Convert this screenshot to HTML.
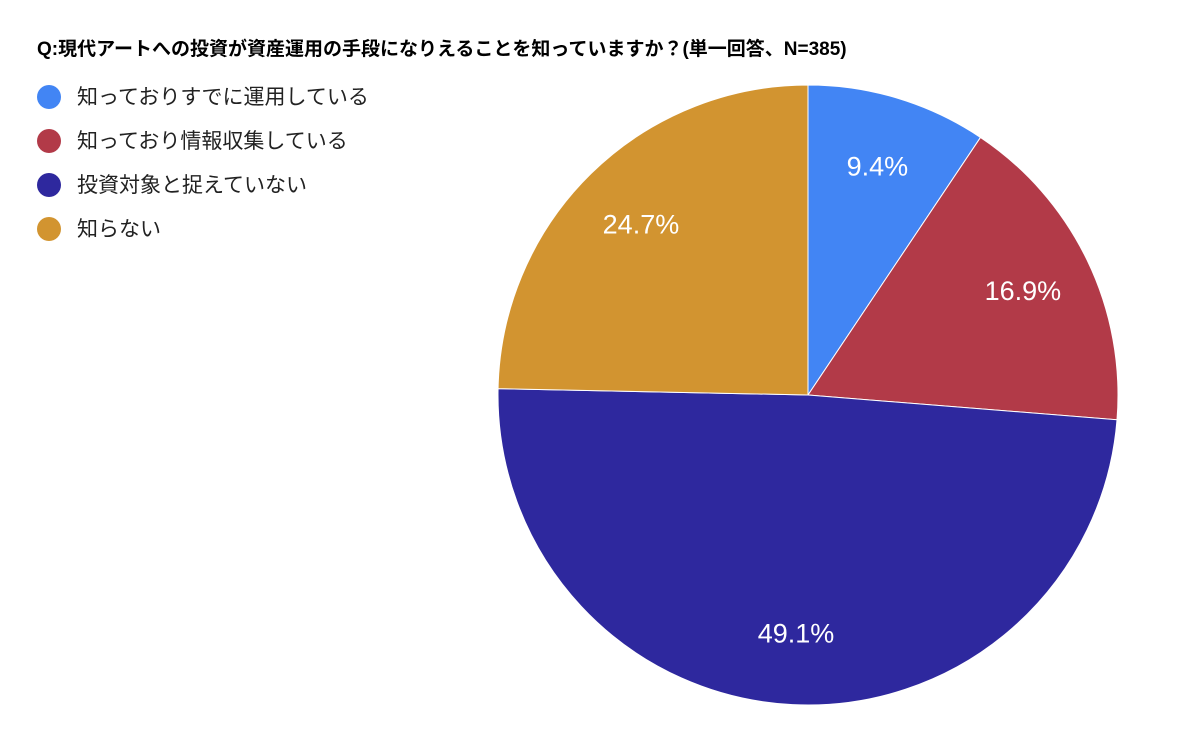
<!DOCTYPE html>
<html><head><meta charset="utf-8"><style>
body{margin:0;background:#fff;width:1200px;height:741px;overflow:hidden;font-family:"Liberation Sans","Noto Sans CJK JP",sans-serif}
</style></head><body>
<svg id="chart" width="1200" height="741" xmlns="http://www.w3.org/2000/svg">
<text x="37" y="55" font-size="19" font-weight="bold" fill="#000" font-family="Liberation Sans, Noto Sans CJK JP, sans-serif">Q:現代アートへの投資が資産運用の手段になりえることを知っていますか？(単一回答、N=385)</text>
<g id="legend"></g>
<g id="slices"></g>
<g id="labels"></g>
</svg>
<script>
const categories=["知っておりすでに運用している","知っており情報収集している","投資対象と捉えていない","知らない"];
const values=[9.4,16.9,49.1,24.7];
const colors=["#4285f4","#b23a48","#2e289e","#d29430"];
const cx=808,cy=395,R=310;
const ns="http://www.w3.org/2000/svg";
const total=values.reduce((a,b)=>a+b,0);
const slices=document.getElementById('slices'),labels=document.getElementById('labels'),legend=document.getElementById('legend');
function pt(a,r){return [cx+r*Math.sin(a),cy-r*Math.cos(a)];}
let acc=0;
values.forEach((v,i)=>{
  const a0=acc/total*2*Math.PI;acc+=v;const a1=acc/total*2*Math.PI;
  const p0=pt(a0,R),p1=pt(a1,R);
  const large=(a1-a0)>Math.PI?1:0;
  const path=document.createElementNS(ns,'path');
  path.setAttribute('d',`M${cx},${cy}L${p0[0]},${p0[1]}A${R},${R} 0 ${large} 1 ${p1[0]},${p1[1]}Z`);
  path.setAttribute('fill',colors[i]);path.setAttribute('stroke','#fff');path.setAttribute('stroke-width','1');
  
  
  slices.appendChild(path);
  const m=(a0+a1)/2,lp=pt(m,R*0.77);
  const t=document.createElementNS(ns,'text');
  t.setAttribute('x',lp[0]);t.setAttribute('y',lp[1]+9);t.setAttribute('text-anchor','middle');
  t.setAttribute('font-size','27');t.setAttribute('fill','#fff');
  t.textContent=v.toFixed(1)+'%';
  
  
  labels.appendChild(t);
  const g=document.createElementNS(ns,'g');
  
  
  const c=document.createElementNS(ns,'circle');
  c.setAttribute('cx',49);c.setAttribute('cy',97+i*44);c.setAttribute('r',12);c.setAttribute('fill',colors[i]);
  const lt=document.createElementNS(ns,'text');
  lt.setAttribute('x',77);lt.setAttribute('y',104+i*44);lt.setAttribute('font-size','21');lt.setAttribute('fill','#222');
  lt.setAttribute('font-family','Liberation Sans, Noto Sans CJK JP, sans-serif');
  lt.textContent=categories[i];
  g.appendChild(c);g.appendChild(lt);legend.appendChild(g);
});
</script>
</body></html>
